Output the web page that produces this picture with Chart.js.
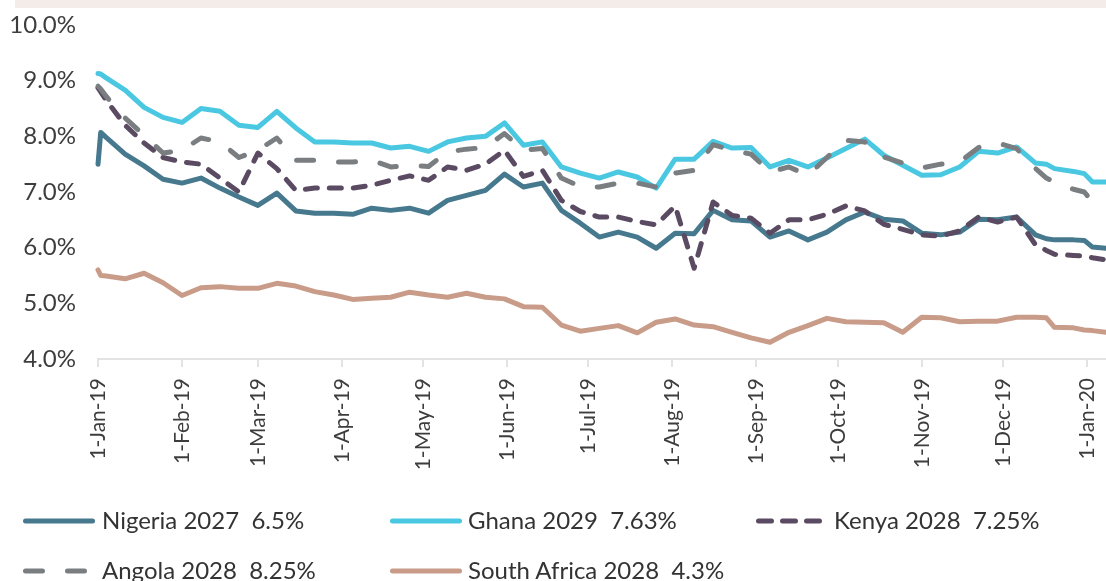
<!DOCTYPE html>
<html><head><meta charset="utf-8">
<script src="https://cdn.jsdelivr.net/npm/chart.js@4.4.1/dist/chart.umd.min.js"></script>
<style>
html,body{margin:0;padding:0;background:#fff;}
#wrap{position:relative;width:1106px;height:581px;overflow:hidden;font-family:Lato,sans-serif;}
#band{position:absolute;left:15px;top:0;width:1091px;height:8px;background:#f4ece9;}
#c{position:absolute;left:0;top:0;}
#lgsvg{position:absolute;left:0;top:0;}
.lg{position:absolute;height:30px;line-height:30px;font-size:24px;color:#333;white-space:pre;}
</style></head><body>
<div id="wrap">
<div id="band"></div>
<canvas id="c" width="1106" height="480" style="width:1106px;height:480px"></canvas>
<svg id="lgsvg" width="1106" height="581"></svg>
</div>
<script>
// ---- data ----
const dates = ['2019-01-01','2019-01-02','2019-01-04','2019-01-11','2019-01-18','2019-01-25','2019-02-01','2019-02-08','2019-02-15','2019-02-22','2019-03-01','2019-03-08','2019-03-15','2019-03-22','2019-03-29','2019-04-05','2019-04-12','2019-04-19','2019-04-26','2019-05-03','2019-05-10','2019-05-17','2019-05-24','2019-05-31','2019-06-07','2019-06-14','2019-06-21','2019-06-28','2019-07-05','2019-07-12','2019-07-19','2019-07-26','2019-08-02','2019-08-09','2019-08-16','2019-08-23','2019-08-30','2019-09-06','2019-09-13','2019-09-20','2019-09-27','2019-10-04','2019-10-11','2019-10-18','2019-10-25','2019-11-01','2019-11-08','2019-11-15','2019-11-22','2019-11-29','2019-12-06','2019-12-13','2019-12-17','2019-12-20','2019-12-27','2019-12-31','2020-01-03','2020-01-08'];

const nigeria = [7.50,8.07,7.98,7.68,7.47,7.23,7.16,7.25,7.07,6.91,6.76,6.98,6.66,6.62,6.62,6.60,6.71,6.67,6.71,6.62,6.85,6.94,7.03,7.32,7.09,7.16,6.67,6.44,6.19,6.28,6.19,5.99,6.26,6.25,6.67,6.50,6.48,6.19,6.30,6.14,6.28,6.50,6.64,6.51,6.48,6.26,6.23,6.28,6.51,6.50,6.55,6.23,6.16,6.14,6.14,6.13,6.01,5.99];
const ghana = [9.13,9.12,9.05,8.83,8.52,8.34,8.25,8.50,8.45,8.20,8.16,8.45,8.15,7.90,7.90,7.88,7.88,7.79,7.82,7.73,7.90,7.97,8.00,8.24,7.84,7.90,7.45,7.34,7.25,7.36,7.27,7.07,7.59,7.59,7.91,7.79,7.80,7.45,7.57,7.45,7.61,7.78,7.95,7.66,7.48,7.30,7.31,7.45,7.73,7.70,7.81,7.52,7.50,7.42,7.37,7.33,7.18,7.18];
const kenya = [8.87,8.80,8.65,8.20,7.88,7.62,7.54,7.50,7.25,7.00,7.70,7.42,7.03,7.07,7.07,7.07,7.12,7.21,7.29,7.21,7.45,7.39,7.50,7.75,7.28,7.39,6.85,6.65,6.55,6.55,6.47,6.41,6.75,5.63,6.82,6.58,6.53,6.26,6.50,6.50,6.60,6.75,6.66,6.42,6.33,6.23,6.21,6.30,6.55,6.46,6.55,6.05,5.95,5.88,5.86,5.85,5.82,5.78];
const angola = [8.90,8.85,8.72,8.33,8.02,7.70,7.75,7.97,7.90,7.62,7.75,7.97,7.57,7.57,7.54,7.54,7.57,7.45,7.48,7.46,7.72,7.77,7.80,8.05,7.75,7.78,7.25,7.10,7.09,7.16,7.16,7.09,7.34,7.39,7.85,7.75,7.68,7.36,7.45,7.30,7.62,7.93,7.90,7.63,7.52,7.43,7.50,7.54,7.80,7.88,7.78,7.42,7.25,7.18,7.05,7.00,6.82,6.98];
const southAfrica = [5.60,5.50,5.49,5.44,5.54,5.37,5.14,5.28,5.30,5.27,5.27,5.36,5.31,5.21,5.15,5.07,5.09,5.11,5.20,5.15,5.11,5.18,5.11,5.08,4.94,4.93,4.61,4.50,4.55,4.60,4.47,4.66,4.72,4.61,4.58,4.48,4.38,4.30,4.48,4.60,4.73,4.67,4.66,4.65,4.48,4.75,4.74,4.67,4.68,4.68,4.75,4.75,4.74,4.57,4.56,4.52,4.51,4.48];

const seriesNames = ['Nigeria 2027  6.5%','Ghana 2029  7.63%','Kenya 2028  7.25%','Angola 2028  8.25%','South Africa 2028  4.3%'];

const tickDates = ['2019-01-01','2019-02-01','2019-03-01','2019-04-01','2019-05-01','2019-06-01','2019-07-01','2019-08-01','2019-09-01','2019-10-01','2019-11-01','2019-12-01','2020-01-01'];
const tickLabels = ['1-Jan-19','1-Feb-19','1-Mar-19','1-Apr-19','1-May-19','1-Jun-19','1-Jul-19','1-Aug-19','1-Sep-19','1-Oct-19','1-Nov-19','1-Dec-19','1-Jan-20'];
const yTicks = [4,5,6,7,8,9,10];

// ---- styles ----
const styles = [
  {color:'#46788e', dash:[], order:5},
  {color:'#4ac8e1', dash:[], order:4},
  {color:'#5a4b63', dash:[12,12], order:2},
  {color:'#7a7e80', dash:[17,25], order:1},
  {color:'#c99c89', dash:[], order:3}
];
const values = [nigeria, ghana, kenya, angola, southAfrica];

const base = Date.UTC(2019,0,1);
const toDay = s => { const p = s.split('-').map(Number); return (Date.UTC(p[0],p[1]-1,p[2]) - base) / 86400000; };
const xs = dates.map(toDay);

const FONT = 'Lato, "Open Sans", sans-serif';

const chart = new Chart(document.getElementById('c'), {
  type: 'line',
  data: {
    datasets: values.map((v, k) => ({
      label: seriesNames[k],
      data: v.map((y, i) => ({x: xs[i], y: y})),
      borderColor: styles[k].color,
      backgroundColor: styles[k].color,
      borderWidth: 5,
      borderDash: styles[k].dash,
      borderCapStyle: 'round',
      borderJoinStyle: 'round',
      pointRadius: 0,
      tension: 0,
      clip: false,
      order: styles[k].order
    }))
  },
  options: {
    responsive: false,
    animation: false,
    layout: {padding: {top: 25, left: 0, right: 0, bottom: 0}, autoPadding: false},
    plugins: {legend: {display: false}, tooltip: {enabled: false}},
    scales: {
      x: {
        type: 'linear',
        min: xs[0],
        max: xs[xs.length - 1],
        afterBuildTicks: s => { s.ticks = tickDates.map(d => ({value: toDay(d)})); },
        afterFit: s => { s.height = 121; s.paddingLeft = 0; s.paddingRight = 0; },
        ticks: {
          autoSkip: false,
          minRotation: 90,
          maxRotation: 90,
          padding: 11,
          color: '#3d3d3d',
          font: {family: FONT, size: 21},
          callback: (v, i) => tickLabels[i]
        },
        grid: {display: true, drawOnChartArea: false, drawTicks: true, tickLength: 8, color: '#e3e3e3', lineWidth: 2},
        border: {display: true, color: '#e3e3e3', width: 2}
      },
      y: {
        min: 4,
        max: 10,
        afterBuildTicks: s => { s.ticks = yTicks.map(v => ({value: v})); },
        afterFit: s => { s.width = 98; s.paddingTop = 0; s.paddingBottom = 0; },
        ticks: {
          padding: 22,
          color: '#3d3d3d',
          font: {family: FONT, size: 24},
          callback: v => v.toFixed(1) + '%'
        },
        grid: {display: false, drawTicks: false},
        border: {display: false}
      }
    }
  }
});

// ---- HTML legend ----
const legendPos = [
  {lx: 25.5, rx: 92.5, tx: 102, cy: 521},
  {lx: 392.5, rx: 459.5, tx: 468, cy: 521},
  {lx: 758.5, rx: 820.5, tx: 834, cy: 521},
  {lx: 25.5, rx: 85.5, tx: 102, cy: 571},
  {lx: 392.5, rx: 459.5, tx: 468, cy: 571}
];
const svg = document.getElementById('lgsvg');
const wrap = document.getElementById('wrap');
legendPos.forEach((p, k) => {
  const ln = document.createElementNS('http://www.w3.org/2000/svg', 'line');
  ln.setAttribute('x1', p.lx); ln.setAttribute('x2', p.rx);
  ln.setAttribute('y1', p.cy); ln.setAttribute('y2', p.cy);
  ln.setAttribute('stroke', styles[k].color);
  ln.setAttribute('stroke-width', 5);
  ln.setAttribute('stroke-linecap', 'round');
  if (styles[k].dash.length) ln.setAttribute('stroke-dasharray', k === 2 ? '13 11' : styles[k].dash.join(' '));
  svg.appendChild(ln);
  const t = document.createElement('div');
  t.className = 'lg';
  t.style.left = p.tx + 'px';
  t.style.top = (p.cy - 16) + 'px';
  t.textContent = seriesNames[k];
  wrap.appendChild(t);
});
</script>
</body></html>
